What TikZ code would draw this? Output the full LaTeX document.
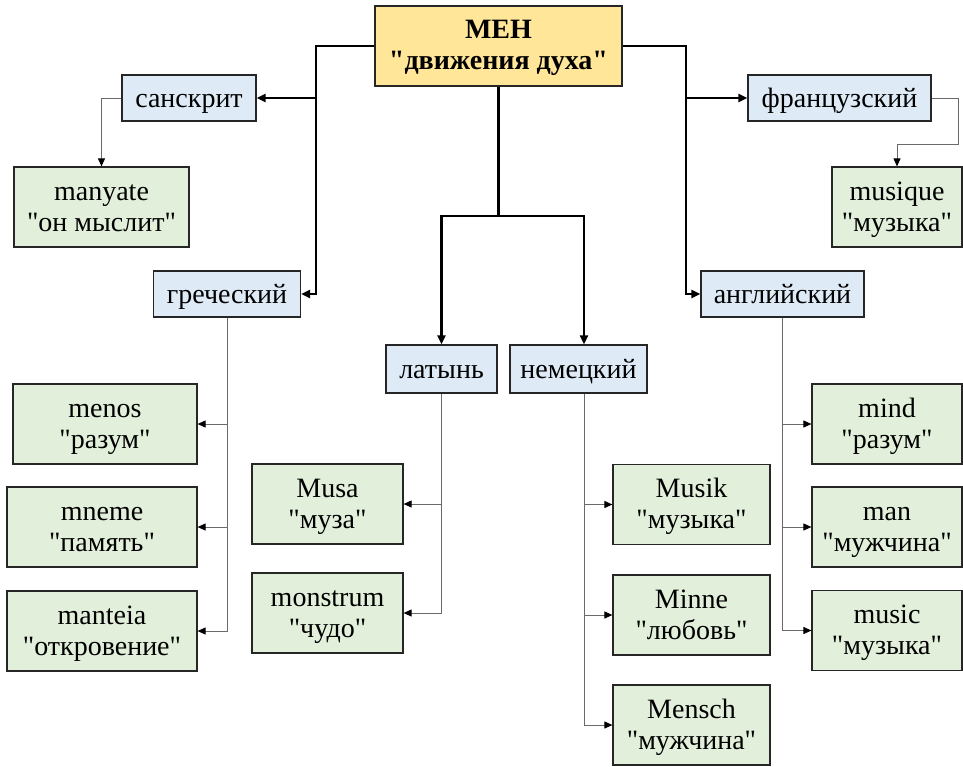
\documentclass[tikz,border=0pt]{standalone}
\usepackage{fontspec}
\setmainfont{Liberation Serif}[Ligatures=TeXOff]
\usetikzlibrary{arrows.meta}
\definecolor{rootfill}{HTML}{FFE699}
\definecolor{langfill}{HTML}{DEEBF7}
\definecolor{wordfill}{HTML}{E2EFDA}
\definecolor{subline}{HTML}{6A6A6A}
\begin{document}
\begin{tikzpicture}[x=1pt,y=-1pt,>={Triangle[length=9pt,width=8pt]},
	box/.style={draw=black!85,line width=1.2pt,align=center,inner sep=0pt,font=\fontsize{28}{31}\selectfont},
	root/.style={box,fill=rootfill,minimum width=247pt,minimum height=80pt,font=\fontsize{28}{31}\selectfont\bfseries,
		text height=49pt,text depth=3pt},
	lang/.style={box,fill=langfill,minimum height=46pt,text height=24pt,text depth=6pt},
	word/.style={box,fill=wordfill,minimum height=80pt,text height=50pt,text depth=2pt},
	main/.style={->,line width=2.4pt},
	sub/.style={-{Triangle[length=8pt,width=7pt,color=black]},draw=subline,line width=0.9pt}]
	\useasboundingbox (0,0) rectangle (963,766);
	% root and languages
	\node[root] (men) at (498.5,46) {МЕН\\"движения духа"};
	\node[lang,minimum width=134pt] (sans) at (189,98) {санскрит};
	\node[lang,minimum width=183pt] (fr) at (839.5,98) {французский};
	\node[lang,minimum width=147pt] (gr) at (227,294) {греческий};
	\node[lang,minimum width=163pt] (en) at (782.5,294) {английский};
	\node[lang,minimum width=111pt,minimum height=48pt] (lat) at (441.5,369) {латынь};
	\node[lang,minimum width=137pt,minimum height=48pt] (de) at (578.5,369) {немецкий};
	% words
	\node[word,minimum width=175pt] (manyate) at (101.5,207) {manyate\\"он мыслит"};
	\node[word,minimum width=130pt] (musique) at (897,207) {musique\\"музыка"};
	\node[word,minimum width=184pt] (menos) at (105,424) {menos\\"разум"};
	\node[word,minimum width=190pt] (mneme) at (102,527) {mneme\\"память"};
	\node[word,minimum width=190pt] (manteia) at (102,631) {manteia\\"откровение"};
	\node[word,minimum width=151pt] (musa) at (327.5,504) {Musa\\"муза"};
	\node[word,minimum width=151pt] (monstrum) at (327.5,613) {monstrum\\"чудо"};
	\node[word,minimum width=157pt] (musik) at (691.5,504.5) {Musik\\"музыка"};
	\node[word,minimum width=157pt] (minne) at (691.5,615) {Minne\\"любовь"};
	\node[word,minimum width=157pt] (mensch) at (691.5,725) {Mensch\\"мужчина"};
	\node[word,minimum width=150pt] (mind) at (887,424) {mind\\"разум"};
	\node[word,minimum width=150pt] (man) at (887,527) {man\\"мужчина"};
	\node[word,minimum width=150pt] (music) at (887,630.5) {music\\"музыка"};
	% thick connectors
	\coordinate (lbus) at (316,47);
	\coordinate (rbus) at (686,47);
	\coordinate (cbus) at (498.5,216);
	\draw[main] (men.west) -| (lbus |- gr.east) -- (gr.east);
	\draw[main] (lbus |- sans.east) -- (sans.east);
	\draw[main] (men.east) -| (rbus |- en.west) -- (en.west);
	\draw[main] (rbus |- fr.west) -- (fr.west);
	\draw[main] (men.south) -- (cbus) -| (lat.north);
	\draw[main] (cbus) -| ([xshift=5.5pt]de.north);
	% thin connectors
	\draw[sub] (sans.west) -| (manyate.north);
	\draw[sub] (fr.east) -- ++(27,0) |- ([yshift=22pt]musique.north) -- (musique.north);
	\foreach \w in {menos,mneme,manteia} \draw[sub] (gr.south) |- (\w.east);
	\foreach \w in {musa,monstrum} \draw[sub] (lat.south) |- (\w.east);
	\foreach \w in {musik,minne,mensch} \draw[sub] ([xshift=5.5pt]de.south) |- (\w.west);
	\foreach \w in {mind,man,music} \draw[sub] (en.south) |- (\w.west);
\end{tikzpicture}
\end{document}
